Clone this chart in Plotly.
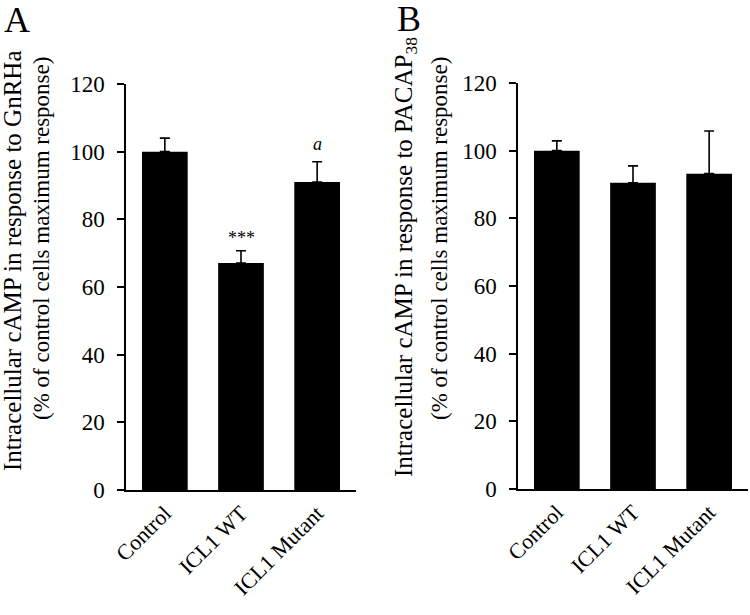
import plotly.graph_objects as go

categories = ["Control", "ICL1 WT", "ICL1 Mutant"]
gnrha_mean = [100.0, 67.1, 91.0]
gnrha_sem = [4.0, 3.6, 6.0]
pacap_mean = [100.0, 90.5, 93.2]
pacap_sem = [2.9, 5.0, 12.6]
gnrha_sig = ["", "***", "<i>a</i>"]
gnrha_sig_y = [0, 74.5, 102.3]
y_ticks = [0, 20, 40, 60, 80, 100, 120]

FONT = "Liberation Serif, Times New Roman, serif"

W, H = 750, 615


def px(x):
    return x / W


def py(y):
    return 1 - y / H


fig = go.Figure()
for mean, sem, ax in [(gnrha_mean, gnrha_sem, "x"), (pacap_mean, pacap_sem, "x2")]:
    fig.add_trace(go.Bar(
        x=categories, y=mean,
        xaxis=ax, yaxis="y" if ax == "x" else "y2",
        width=0.6,
        marker=dict(color="black", line=dict(color="black", width=0)),
        error_y=dict(type="data", array=sem, arrayminus=[0]*len(sem), symmetric=False,
                     color="black", thickness=1.6, width=5),
        showlegend=False, hoverinfo="skip",
    ))

axis_common = dict(
    showline=True, linecolor="black", linewidth=1.5,
    ticks="outside", ticklen=7, tickwidth=1.5, tickcolor="black",
    showgrid=False, zeroline=False, automargin=False,
)
xcommon = dict(axis_common, tickangle=-45, range=[-0.51, 2.51], ticks="",
               tickfont=dict(family=FONT, size=22, color="black"))
ycommon = dict(axis_common, range=[0, 120], tickvals=y_ticks, ticklabelstandoff=8,
               tickfont=dict(family=FONT, size=23, color="black"))

fig.update_layout(
    width=W, height=H,
    margin=dict(l=0, r=0, t=0, b=0),
    paper_bgcolor="white", plot_bgcolor="white",
    xaxis=dict(xcommon, domain=[px(126), px(356)], anchor="y"),
    yaxis=dict(ycommon, domain=[py(490), py(84)], anchor="x"),
    xaxis2=dict(xcommon, domain=[px(518), px(748)], anchor="y2"),
    yaxis2=dict(ycommon, domain=[py(489), py(83)], anchor="x2"),
)

for cat, lab, sy in zip(categories, gnrha_sig, gnrha_sig_y):
    if lab:
        fig.add_annotation(x=cat, y=sy, xref="x", yref="y", text=lab,
                           showarrow=False, xanchor="center", yanchor="middle",
                           font=dict(family=FONT, size=18, color="black"))

titles = [
    (13, 261, 41, 239, "Intracellular cAMP in response to GnRHa"),
    (405, 257, 439, 239, "Intracellular cAMP in response to PACAP<sub>38</sub>"),
]
for x1, y1, x2, y2, t in titles:
    fig.add_annotation(x=px(x1), y=py(y1), xref="paper", yref="paper", text=t,
                       textangle=-90, showarrow=False, xanchor="center", yanchor="middle",
                       font=dict(family=FONT, size=25, color="black"))
    fig.add_annotation(x=px(x2), y=py(y2), xref="paper", yref="paper",
                       text="(% of control cells maximum response)",
                       textangle=-90, showarrow=False, xanchor="center", yanchor="middle",
                       font=dict(family=FONT, size=23, color="black"))

for lx, ly, lab in [(17, 20, "A"), (409, 19, "B")]:
    fig.add_annotation(x=px(lx), y=py(ly), xref="paper", yref="paper", text=lab,
                       showarrow=False, xanchor="center", yanchor="middle",
                       font=dict(family=FONT, size=36, color="black"))

fig.write_html("out.html", config={"displayModeBar": False},
               post_script="document.body.style.margin='0';")
